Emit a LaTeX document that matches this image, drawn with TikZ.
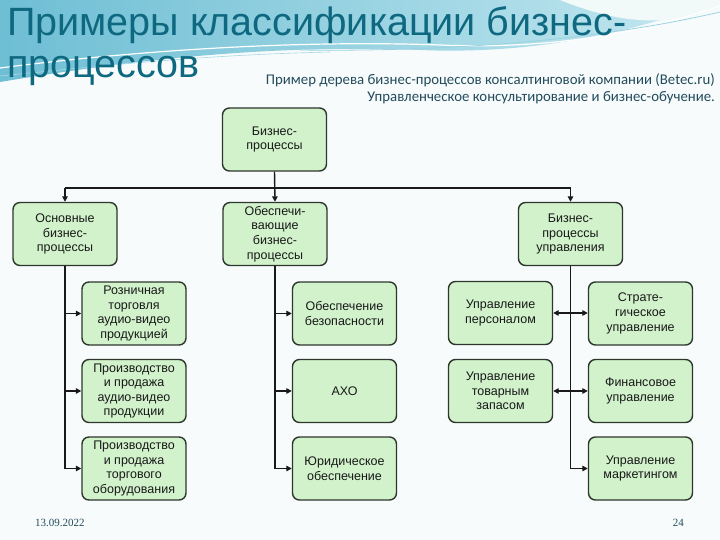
\documentclass[tikz,border=0pt]{standalone}
\usepackage{fontspec}
\setmainfont{Liberation Sans}
\newfontfamily\subfont{Carlito}
\newfontfamily\footfont{Liberation Serif}
\usetikzlibrary{arrows.meta}
\definecolor{titlec}{RGB}{14,104,128}
\definecolor{subc}{RGB}{35,75,92}
\definecolor{boxfill}{RGB}{209,242,203}
\definecolor{boxdraw}{RGB}{45,55,45}
\definecolor{wavea}{RGB}{110,190,212}
\definecolor{waveb}{RGB}{196,232,240}
\tikzset{
  procbox/.style={draw=boxdraw, line width=1.4pt, fill=boxfill, rounded corners=7pt,
    minimum width=104pt, minimum height=63pt, align=center, inner sep=1pt,
    font=\fontsize{12.5}{14.6}\selectfont, text=black!90},
  conn/.style={line width=1.4pt, draw=black!90},
  arr/.style={conn, -{Triangle[length=5.5pt,width=5.5pt]}},
  darr/.style={conn, {Triangle[length=5.5pt,width=5.5pt]}-{Triangle[length=5.5pt,width=5.5pt]}}
}
\begin{document}
\begin{tikzpicture}[x=1pt,y=-1pt]
\useasboundingbox (0,0) rectangle (720,540);
\fill[white!97!teal] (0,0) rectangle (720,540);
% background wave
\shade[left color=wavea, right color=waveb] (0,0) -- (0,82) .. controls (120,62) and (260,44) .. (420,50) .. controls (540,55) and (640,30) .. (720,0) -- cycle;
\fill[white!95!teal] (560,0) .. controls (610,20) and (660,30) .. (720,8) -- (720,0) -- cycle;
\draw[white, line width=1.2pt] (0,68) .. controls (140,50) and (300,40) .. (440,45) .. controls (560,50) and (650,30) .. (720,6);
\draw[wavea!70, line width=0.8pt] (300,50) .. controls (450,52) and (600,40) .. (720,12);
\draw[wavea!60, line width=0.6pt] (0,76) .. controls (100,66) and (200,55) .. (330,52);
% title
\node[anchor=base west, inner sep=0, text=titlec, font=\fontsize{39.5}{42}\selectfont] (t1) at (7,36) {Примеры классификации бизнес-};
\node[anchor=base west, inner sep=0, text=titlec, font=\fontsize{39.5}{42}\selectfont] (t2) at (7,78) {процессов};
\node[anchor=base east, inner sep=0, text=subc, font=\subfont\fontsize{14.8}{17}\selectfont] (s1) at (715,85) {Пример дерева бизнес-процессов консалтинговой компании (Betec.ru)};
\node[anchor=base east, inner sep=0, text=subc, font=\subfont\fontsize{14.8}{17}\selectfont] (s2) at (715,102) {Управленческое консультирование и бизнес-обучение.};
% boxes
\node[procbox] (root) at (274.5,139.5) {Бизнес-\\процессы};
\node[procbox] (A) at (65,234) {Основные\\бизнес-\\процессы};
\node[procbox] (B) at (275,234) {Обеспечи-\\вающие\\бизнес-\\процессы};
\node[procbox] (C) at (570.5,234) {Бизнес-\\процессы\\управления};
\node[procbox] (L1) at (134,313.5) {Розничная\\торговля\\аудио-видео\\продукцией};
\node[procbox] (L2) at (134,391) {Производство\\и продажа\\аудио-видео\\продукции};
\node[procbox] (L3) at (134,468.5) {Производство\\и продажа\\торгового\\оборудования};
\node[procbox] (M1) at (344.5,313.5) {Обеспечение\\безопасности};
\node[procbox] (M2) at (344.5,391) {АХО};
\node[procbox] (M3) at (344.5,468.5) {Юридическое\\обеспечение};
\node[procbox] (P1) at (500.5,313) {Управление\\персоналом};
\node[procbox] (P2) at (500.5,391) {Управление\\товарным\\запасом};
\node[procbox] (S1) at (640.5,313.5) {Страте-\\гическое\\управление};
\node[procbox] (S2) at (640.5,391) {Финансовое\\управление};
\node[procbox] (S3) at (640.5,468.5) {Управление\\маркетингом};
% connectors
\coordinate (hl) at (65,188);
\coordinate (hr) at (570.5,188);
\draw[conn] (hl) -- (hr);
\draw[arr] (root.south) -- (B.north);
\draw[arr] (hl) -- (A.north);
\draw[arr] (hr) -- (C.north);
\draw[conn] (A.south) -- (A.south |- L3.west);
\draw[arr] (A.south |- L1.west) -- (L1.west);
\draw[arr] (A.south |- L2.west) -- (L2.west);
\draw[arr] (A.south |- L3.west) -- (L3.west);
\draw[conn] (B.south) -- (B.south |- M3.west);
\draw[arr] (B.south |- M1.west) -- (M1.west);
\draw[arr] (B.south |- M2.west) -- (M2.west);
\draw[arr] (B.south |- M3.west) -- (M3.west);
\draw[conn] (C.south) -- (C.south |- S3.west);
\draw[darr] (P1.east) -- (P1.east -| S1.west);
\draw[darr] (P2.east) -- (P2.east -| S2.west);
\draw[arr] (C.south |- S3.west) -- (S3.west);
% footer
\node[anchor=base west, inner sep=0, text=subc, font=\footfont\fontsize{11}{13}\selectfont] (date) at (35,526) {13.09.2022};
\node[anchor=base east, inner sep=0, text=subc, font=\footfont\fontsize{11}{13}\selectfont] (page) at (684,526) {24};
\end{tikzpicture}
\end{document}
